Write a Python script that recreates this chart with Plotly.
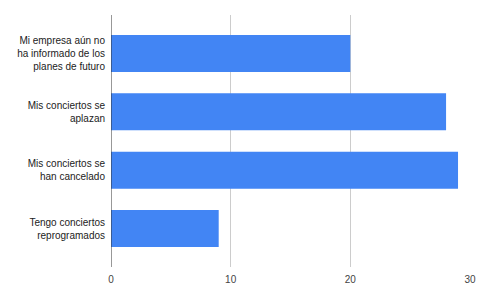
import plotly.graph_objects as go

categories = [
    "Mi empresa aún no<br>ha informado de los<br>planes de futuro",
    "Mis conciertos se<br>aplazan",
    "Mis conciertos se<br>han cancelado",
    "Tengo conciertos<br>reprogramados",
]
values = [20, 28, 29, 9]
x_ticks = [0, 10, 20, 30]

fig = go.Figure(
    go.Bar(
        x=values,
        y=categories,
        orientation="h",
        marker=dict(color="#4285F4", line=dict(width=0)),
        width=0.635,
    )
)

fig.update_layout(
    width=485,
    height=300,
    margin=dict(l=111, r=15, t=15, b=33, autoexpand=False),
    paper_bgcolor="white",
    plot_bgcolor="white",
    showlegend=False,
    font=dict(family="Liberation Sans, Arial, sans-serif", size=10, color="#222222"),
    xaxis=dict(
        range=[0, 30],
        tickvals=x_ticks,
        showgrid=True,
        gridcolor="#cccccc",
        gridwidth=1,
        zeroline=False,
        showline=False,
        ticks="",
        automargin=False,
        ticklabelstandoff=5,
        tickfont=dict(size=10, color="#444444"),
    ),
    yaxis=dict(
        range=[3.66, -0.66],
        showgrid=False,
        zeroline=False,
        showline=False,
        ticks="",
        automargin=False,
        ticklabelstandoff=5,
        tickfont=dict(size=10, color="#222222"),
    ),
    shapes=[
        dict(type="line", xref="x", yref="paper", x0=0, x1=0, y0=0, y1=1,
             line=dict(color="#333333", width=1))
    ],
)

fig.write_html("out.html")
